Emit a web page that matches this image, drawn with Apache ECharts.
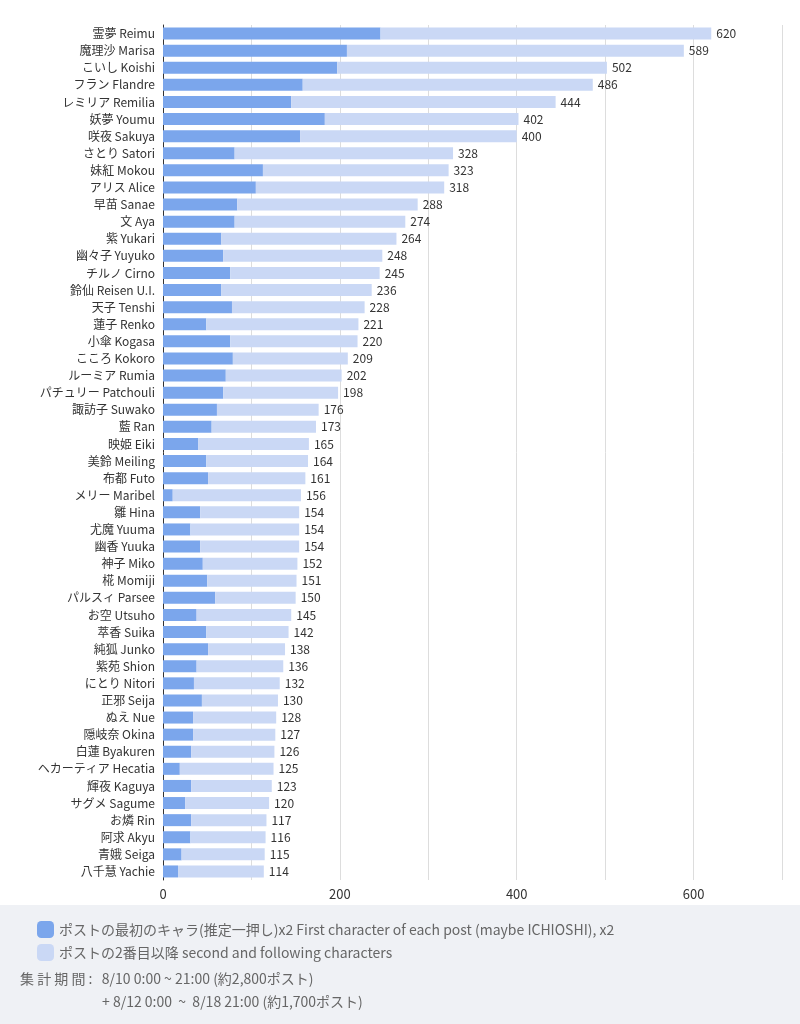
<!DOCTYPE html>
<html>
<head>
<meta charset="utf-8">
<script src="https://cdn.jsdelivr.net/npm/echarts@6/dist/echarts.min.js"></script>
<style>html,body{margin:0;padding:0;background:#fff}#main{width:800px;height:1024px}</style>
</head>
<body>
<div id="main"></div>
<script>
var names = ['霊夢 Reimu','魔理沙 Marisa','こいし Koishi','フラン Flandre','レミリア Remilia','妖夢 Youmu','咲夜 Sakuya','さとり Satori','妹紅 Mokou','アリス Alice',
    '早苗 Sanae','文 Aya','紫 Yukari','幽々子 Yuyuko','チルノ Cirno','鈴仙 Reisen U.I.','天子 Tenshi','蓮子 Renko','小傘 Kogasa','こころ Kokoro',
    'ルーミア Rumia','パチュリー Patchouli','諏訪子 Suwako','藍 Ran','映姫 Eiki','美鈴 Meiling','布都 Futo','メリー Maribel','雛 Hina','尤魔 Yuuma',
    '幽香 Yuuka','神子 Miko','椛 Momiji','パルスィ Parsee','お空 Utsuho','萃香 Suika','純狐 Junko','紫苑 Shion','にとり Nitori','正邪 Seija',
    'ぬえ Nue','隠岐奈 Okina','白蓮 Byakuren','ヘカーティア Hecatia','輝夜 Kaguya','サグメ Sagume','お燐 Rin','阿求 Akyu','青娥 Seiga','八千慧 Yachie'];
var totals = [620,589,502,486,444,402,400,328,323,318,288,274,264,248,245,236,228,221,220,209,
    202,198,176,173,165,164,161,156,154,154,154,152,151,150,145,142,138,136,132,130,
    128,127,126,125,123,120,117,116,115,114];
var firstX2 = [246,208,197,158,145,183,155,81,113,105,84,81,66,68,76,66,78,49,76,79,
    71,68,61,55,40,49,51,11,42,31,42,45,50,59,38,49,51,38,35,44,
    34,34,32,19,32,25,32,31,21,17];
var rest = totals.map(function(t, i) { return t - firstX2[i]; });

var myChart = echarts.init(document.getElementById('main'));
var font = '"Noto Sans CJK JP", "DejaVu Sans", sans-serif';
var option = {
    backgroundColor: '#fff',
    textStyle: { fontFamily: font },
    graphic: [
        { type: 'rect', left: 0, top: 905, shape: { width: 800, height: 119 }, style: { fill: '#eff1f5' } },
        { type: 'text', left: 20, top: 972, style: { text: '集 計 期 間 :   8/10 0:00 ~ 21:00 (約2,800ポスト)', font: '14px ' + font, fill: '#666' } },
        { type: 'text', left: 102, top: 995, style: { text: '+ 8/12 0:00  ~  8/18 21:00 (約1,700ポスト)', font: '14px ' + font, fill: '#666' } }
    ],
    legend: {
        orient: 'vertical', left: 32, top: 916, itemWidth: 17, itemHeight: 17, itemGap: 6,
        textStyle: { fontSize: 14, color: '#666' },
        data: ['ポストの最初のキャラ(推定一押し)x2 First character of each post (maybe ICHIOSHI), x2', 'ポストの2番目以降 second and following characters']
    },
    grid: { left: 163, right: 18, top: 25, bottom: 144 },
    xAxis: {
        type: 'value', min: 0, max: 700, interval: 100,
        axisLabel: { fontSize: 13, color: '#333', formatter: function(v) { return v % 200 === 0 ? v : ''; } },
        splitLine: { lineStyle: { color: '#ddd' } }
    },
    yAxis: {
        type: 'category', inverse: true, data: names,
        axisLine: { lineStyle: { color: '#333' } }, axisTick: { show: false },
        axisLabel: { fontSize: 12, color: '#333', interval: 0 }
    },
    series: [
        { name: 'ポストの最初のキャラ(推定一押し)x2 First character of each post (maybe ICHIOSHI), x2', type: 'bar', stack: 's', data: firstX2,
          barWidth: 12, itemStyle: { color: '#7ba6ec' } },
        { name: 'ポストの2番目以降 second and following characters', type: 'bar', stack: 's', data: rest,
          barWidth: 12, itemStyle: { color: '#cad8f5' },
          label: { show: true, position: 'right', fontSize: 12, color: '#333',
                   formatter: function(p) { return totals[p.dataIndex]; } } }
    ]
};
myChart.setOption(option);
</script>
</body>
</html>
